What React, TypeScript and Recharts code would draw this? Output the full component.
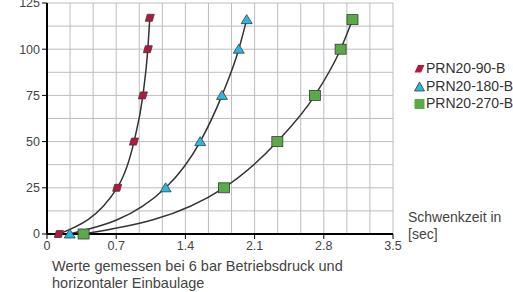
import React from "react";
import { LineChart, Line, XAxis, YAxis, CartesianGrid } from "recharts";

const xTicks = [0, 0.7, 1.4, 2.1, 2.8, 3.5];
const yTicks = [0, 25, 50, 75, 100, 125];
const xGridTicks = [0, 0.2333, 0.4667, 0.7, 0.9333, 1.1667, 1.4, 1.6333, 1.8667, 2.1, 2.3333, 2.5667, 2.8, 3.0333, 3.2667, 3.5];
const yGridTicks = [0, 12.5, 25, 37.5, 50, 62.5, 75, 87.5, 100, 112.5, 125];
const X_MAX = 3.5;
const Y_MAX = 125;

const seriesNames = ["PRN20-90-B", "PRN20-180-B", "PRN20-270-B"];

const prn90 = [
  { t: 0.12, v: 0 },
  { t: 0.71, v: 25 },
  { t: 0.88, v: 50 },
  { t: 0.97, v: 75 },
  { t: 1.02, v: 100 },
  { t: 1.04, v: 117 },
];
const prn180 = [
  { t: 0.23, v: 0 },
  { t: 1.2, v: 25 },
  { t: 1.55, v: 50 },
  { t: 1.77, v: 75 },
  { t: 1.94, v: 100 },
  { t: 2.02, v: 116 },
];
const prn270 = [
  { t: 0.37, v: 0 },
  { t: 1.79, v: 25 },
  { t: 2.33, v: 50 },
  { t: 2.71, v: 75 },
  { t: 2.97, v: 100 },
  { t: 3.09, v: 116 },
];

const RED = "#b5183f";
const CYAN = "#2ab7e2";
const GREEN = "#5aab47";
const EDGE = "#3a3a3a";
const FONT = "'Liberation Sans', Arial, Helvetica, sans-serif";

const Para = (p: any) => {
  const { cx, cy } = p;
  if (cx == null || cy == null) return null;
  return (
    <polygon
      points={`${cx - 4.5},${cy + 3.5} ${cx + 2.5},${cy + 3.5} ${cx + 4.5},${cy - 3.5} ${cx - 2.5},${cy - 3.5}`}
      fill={RED}
      stroke={EDGE}
      strokeWidth={0.8}
    />
  );
};
const Tri = (p: any) => {
  const { cx, cy } = p;
  if (cx == null || cy == null) return null;
  return (
    <polygon
      points={`${cx},${cy - 5} ${cx + 5.5},${cy + 4} ${cx - 5.5},${cy + 4}`}
      fill={CYAN}
      stroke={EDGE}
      strokeWidth={0.8}
    />
  );
};
const Sq = (p: any) => {
  const { cx, cy } = p;
  if (cx == null || cy == null) return null;
  return <rect x={cx - 5.5} y={cy - 5} width={11} height={10} fill={GREEN} stroke={EDGE} strokeWidth={0.8} />;
};

const vGen = (props: any) => {
  const { xAxis, offset } = props;
  if (xAxis && typeof xAxis.scale === "function") return xGridTicks.map((t) => xAxis.scale(t));
  return xGridTicks.map((t) => offset.left + (t / X_MAX) * offset.width);
};
const hGen = (props: any) => {
  const { yAxis, offset } = props;
  if (yAxis && typeof yAxis.scale === "function") return yGridTicks.map((v) => yAxis.scale(v));
  return yGridTicks.map((v) => offset.top + (1 - v / Y_MAX) * offset.height);
};

const LegendBox = () => (
  <div
    style={{
      position: "absolute",
      left: 414,
      top: 60,
      width: 99,
      whiteSpace: "nowrap",
      fontFamily: FONT,
      fontSize: 14,
      color: "#333",
      lineHeight: "17.5px",
    }}
  >
    {seriesNames.map((n, i) => (
      <div key={n} style={{ display: "flex", alignItems: "center" }}>
        <svg width={11} height={11} style={{ marginRight: 1, flex: "none" }}>
          {i === 0 && <polygon points="0.5,9.5 7,9.5 10.5,2 4,2" fill={RED} />}
          {i === 1 && <polygon points="5.5,1 10.5,10 0.5,10" fill={CYAN} stroke={EDGE} strokeWidth={0.8} />}
          {i === 2 && <rect x={0.5} y={1} width={10} height={10} fill={GREEN} />}
        </svg>
        <span>{n}</span>
      </div>
    ))}
  </div>
);

export default function App() {
  return (
    <div style={{ position: "absolute", left: 0, top: 0, width: 513, height: 292, background: "#fff" }}>
      <LineChart width={513} height={292} margin={{ top: 3, right: 120, bottom: 38, left: 0 }}>
        <CartesianGrid stroke="#bdbdbd" strokeWidth={1} verticalCoordinatesGenerator={vGen} horizontalCoordinatesGenerator={hGen} />
        <XAxis
          type="number"
          dataKey="t"
          domain={[0, X_MAX]}
          ticks={xTicks}
          height={20}
          axisLine={{ stroke: "#000", strokeWidth: 2 }}
          tickLine={{ stroke: "#000", strokeWidth: 1 }}
          tickSize={5}
          tick={{ fill: "#444", fontSize: 12.5, fontFamily: FONT }}
          interval={0}
        />
        <YAxis
          type="number"
          dataKey="v"
          domain={[0, Y_MAX]}
          ticks={yTicks}
          width={47}
          axisLine={{ stroke: "#000", strokeWidth: 2 }}
          tickLine={{ stroke: "#000", strokeWidth: 1 }}
          tickSize={5}
          tick={{ fill: "#444", fontSize: 12.5, fontFamily: FONT }}
          interval={0}
        />
        <Line data={prn90} dataKey="v" name={seriesNames[0]} type="monotone" stroke="#333" strokeWidth={1.5} dot={<Para />} isAnimationActive={false} />
        <Line data={prn180} dataKey="v" name={seriesNames[1]} type="monotone" stroke="#333" strokeWidth={1.5} dot={<Tri />} isAnimationActive={false} />
        <Line data={prn270} dataKey="v" name={seriesNames[2]} type="monotone" stroke="#333" strokeWidth={1.5} dot={<Sq />} isAnimationActive={false} />
      </LineChart>
      <LegendBox />
      <div style={{ position: "absolute", left: 408, top: 208.5, whiteSpace: "nowrap", fontFamily: FONT, fontSize: 14, color: "#444", lineHeight: "17.7px" }}>
        Schwenkzeit in
        <br />
        [sec]
      </div>
      <div style={{ position: "absolute", left: 52, top: 258, whiteSpace: "nowrap", fontFamily: FONT, fontSize: 14.5, color: "#444", lineHeight: "16.7px" }}>
        Werte gemessen bei 6 bar Betriebsdruck und
        <br />
        horizontaler Einbaulage
      </div>
    </div>
  );
}
